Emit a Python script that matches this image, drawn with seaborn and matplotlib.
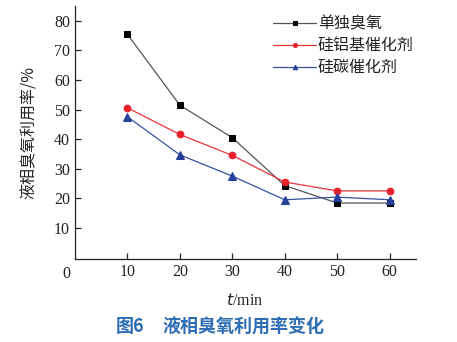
import matplotlib
matplotlib.use("Agg")
import matplotlib.pyplot as plt
import seaborn as sns
import pandas as pd

# Reaction time (min)
t_min = [10, 20, 30, 40, 50, 60]
# Liquid-phase ozone utilisation (%)
ozone_only = [75.5, 51.5, 40.5, 24.3, 18.4, 18.4]
si_al_catalyst = [50.6, 41.6, 34.5, 25.5, 22.5, 22.5]
si_c_catalyst = [47.6, 34.7, 27.5, 19.5, 20.4, 19.5]

series_names = ["单独臭氧", "硅铝基催化剂", "硅碳催化剂"]
series_values = [ozone_only, si_al_catalyst, si_c_catalyst]
line_colors = ["#555555", "#e8343a", "#3552a0"]
marker_colors = ["#000000", "#e8202a", "#23409a"]
markers = ["s", "o", "^"]
marker_sizes = [4.6, 4.8, 5.4]

df = pd.concat(
    [pd.DataFrame({"t": t_min, "rate": v, "group": n}) for n, v in zip(series_names, series_values)],
    ignore_index=True,
)

sns.set_style("ticks")
plt.rcParams["font.family"] = ["Liberation Serif", "Noto Sans CJK SC"]
plt.rcParams["axes.unicode_minus"] = False

fig = plt.figure(figsize=(4.57, 3.42), dpi=100)
ax = fig.add_axes([0.164, 0.243, 0.746, 0.739])

for name, lc, mc, mk, ms in zip(series_names, line_colors, marker_colors, markers, marker_sizes):
    sub = df[df["group"] == name]
    sns.lineplot(data=sub, x="t", y="rate", ax=ax, color=lc, linewidth=0.9,
                 marker=mk, markersize=ms,
                 markerfacecolor=mc, markeredgecolor=mc, label=name)

ax.set_xlim(0, 65)
ax.set_ylim(-0.5, 85)
ax.set_xticks([10, 20, 30, 40, 50, 60])
ax.set_yticks([10, 20, 30, 40, 50, 60, 70, 80])
ax.tick_params(direction="in", length=4, width=0.9, labelsize=11.5, colors="#222222")
for side in ("top", "right"):
    ax.spines[side].set_visible(False)
for side in ("left", "bottom"):
    ax.spines[side].set_linewidth(0.9)
    ax.spines[side].set_color("#222222")

# shared origin label
ax.text(-0.012, -0.028, "0", transform=ax.transAxes, ha="right", va="top",
        fontsize=11.5, color="#222222")

ax.set_xlabel("")
ax.set_ylabel("液相臭氧利用率/%", fontsize=11.5, family=["Noto Sans CJK SC"], color="#222222",
              labelpad=12)
fig.text(0.536, 0.12, r"$\it{t}$/min", ha="center", va="center", fontsize=11.5, color="#222222")

# figure caption
fig.text(116 / 457, 0.044, "图6", ha="left", va="center", fontsize=13,
         fontweight="bold", color="#2e6db4", family=["Noto Sans CJK SC"])
fig.text(163 / 457, 0.044, "液相臭氧利用率变化", ha="left", va="center", fontsize=13,
         fontweight="bold", color="#2e6db4", family=["Noto Sans CJK SC"])

leg = ax.legend(loc="upper left", bbox_to_anchor=(0.581, 0.963), frameon=False,
                prop={"family": "Noto Sans CJK SC", "size": 11.5},
                handlelength=2.7, handletextpad=0.1, labelspacing=0.3,
                borderpad=0.0, borderaxespad=0.0, markerscale=0.6)
for txt in leg.get_texts():
    txt.set_color("#222222")

fig.savefig("out.png", dpi=100)
